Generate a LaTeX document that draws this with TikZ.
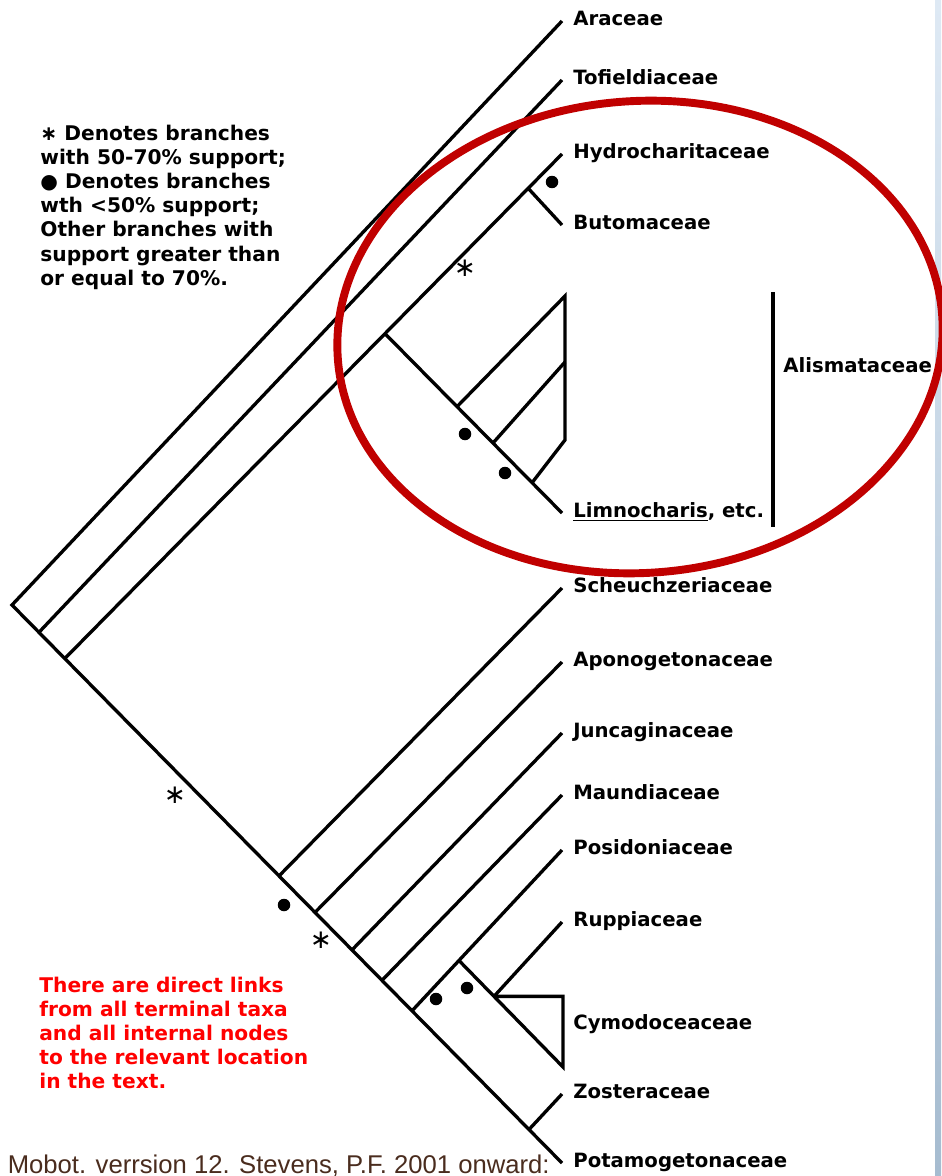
\documentclass[tikz,border=0pt]{standalone}
\usepackage{fontspec}
\setmainfont{DejaVu Sans}
\newfontfamily\capfont{Liberation Sans}
\usetikzlibrary{calc, positioning}
\definecolor{ringred}{RGB}{192,0,0}
\definecolor{linkred}{RGB}{255,0,0}
\definecolor{capbrown}{RGB}{74,44,30}
\definecolor{edgetop}{RGB}{222,233,244}
\definecolor{edgebot}{RGB}{166,188,208}
\tikzset{
  % tree
  branch/.style = {line width=1.9pt},
  taxon/.style  = {inner sep=0pt, font=\fontsize{11.2}{13}\selectfont\bfseries},
  supdot/.style = {circle, fill, inner sep=0pt, minimum width=0.23cm, minimum height=0.25cm},
  weak/.style   = {inner sep=0pt, font=\fontsize{15}{15}\selectfont},
  % notes
  note/.style   = {anchor=north west, align=left, inner sep=0pt,
                   font=\fontsize{11.5}{13.7}\selectfont\bfseries},
  ring/.style   = {draw=ringred, line width=4.5pt},
}

\begin{document}
\begin{tikzpicture}[x=0.02cm, y=-0.02cm]
\useasboundingbox (0,0) rectangle (941,1176);
\fill[white] (0,0) rectangle (941,1176);
\shade[top color=edgetop, bottom color=edgebot] (935,0) rectangle (941,1176);

% ---------- Tips ----------
\coordinate (tarac)  at (562,21);
\coordinate (ttofi)  at (562,80);
\coordinate (thydro) at (562,154);
\coordinate (tbuto)  at (562,225);
\coordinate (tlimno) at (562,513);
\coordinate (tscheu) at (562,588);
\coordinate (tapon)  at (562,662);
\coordinate (tjunc)  at (562,733);
\coordinate (tmaun)  at (562,795);
\coordinate (tposi)  at (562,850);
\coordinate (trupp)  at (562,922);
\coordinate (tzost)  at (562,1094);
\coordinate (tpota)  at (562,1163);

% ---------- Spine ----------
\coordinate (root) at (12,605);
\coordinate (n1) at ($(root)!0.049!(tpota)$);
\coordinate (n2) at ($(root)!0.096!(tpota)$);
\coordinate (s1) at ($(root)!0.4855!(tpota)$);
\coordinate (s2) at ($(root)!0.5509!(tpota)$);
\coordinate (s3) at ($(root)!0.6182!(tpota)$);
\coordinate (s4) at ($(root)!0.6727!(tpota)$);
\coordinate (s5) at ($(root)!0.7273!(tpota)$);
\coordinate (s6) at ($(root)!0.9400!(tpota)$);

% ---------- Inner nodes ----------
\coordinate (alis) at ($(n2)!0.644!(thydro)$);
\coordinate (hb)   at ($(n2)!0.932!(thydro)$);
\coordinate (b1) at ($(alis)!0.407!(tlimno)$);
\coordinate (b2) at ($(alis)!0.610!(tlimno)$);
\coordinate (b3) at ($(alis)!0.831!(tlimno)$);
\coordinate (atop) at (565,296);
\coordinate (amid) at (565,362);
\coordinate (abot) at (565,440);
\coordinate (cnode) at ($(s5)!0.313!(tposi)$);
\coordinate (cbot)  at (563,1067);
\coordinate (rc)    at ($(cnode)!0.337!(cbot)$);
\coordinate (ctop)  at (rc -| cbot);
\coordinate (bracktop) at (773,292);
\coordinate (brackbot) at (773,527);

% ---------- Branches ----------
\draw[branch] (tarac) -- (root) -- (tpota);
\draw[branch] (n1) -- (ttofi);
\draw[branch] (n2) -- (thydro);
\draw[branch] (hb) -- (tbuto);
\draw[branch] (alis) -- (tlimno);
\draw[branch] (b1) -- (atop) -- (abot) -- (b3);
\draw[branch] (b2) -- (amid);
\foreach \s/\t in {s1/tscheu, s2/tapon, s3/tjunc, s4/tmaun, s5/tposi, rc/trupp, s6/tzost} {
  \draw[branch] (\s) -- (\t);
}
\draw[branch] (cnode) -- (cbot) -- (ctop) -- (rc);
\draw[branch] (bracktop) -- (brackbot);

% ---------- Taxa ----------
\node[taxon, mid right=0.22cm of tarac]  (larac)  {Araceae};
\node[taxon, mid right=0.22cm of ttofi]  (ltofi)  {Tofieldiaceae};
\node[taxon, mid right=0.22cm of thydro] (lhydro) {Hydrocharitaceae};
\node[taxon, mid right=0.22cm of tbuto]  (lbuto)  {Butomaceae};
\node[taxon, mid right=0.22cm of tlimno] (llimno) {\underline{Limnocharis}, etc.};
\node[taxon, mid right=0.2cm of {$(bracktop)!0.32!(brackbot)$}] (lalis) {Alismataceae};
\node[taxon, mid right=0.22cm of tscheu] (lscheu) {Scheuchzeriaceae};
\node[taxon, mid right=0.22cm of tapon]  (lapon)  {Aponogetonaceae};
\node[taxon, mid right=0.22cm of tjunc]  (ljunc)  {Juncaginaceae};
\node[taxon, mid right=0.22cm of tmaun]  (lmaun)  {Maundiaceae};
\node[taxon, mid right=0.22cm of tposi]  (lposi)  {Posidoniaceae};
\node[taxon, mid right=0.22cm of trupp]  (lrupp)  {Ruppiaceae};
\node[taxon, mid right=0.2cm of {$(ctop)!0.4!(cbot)$}] (lcymo) {Cymodoceaceae};
\node[taxon, mid right=0.22cm of tzost]  (lzost)  {Zosteraceae};
\node[taxon, mid right=0.22cm of tpota]  (lpota)  {Potamogetonaceae};

% ---------- Support marks ----------
\node[supdot] (d1) at (552,182) {};
\node[supdot] (d2) at (465,434) {};
\node[supdot] (d3) at (505,473) {};
\node[supdot] (d4) at (284,905) {};
\node[supdot] (d5) at (436,999) {};
\node[supdot] (d6) at (467,988) {};
\node[weak] (w1) at (465,268) {∗};
\node[weak] (w2) at (175,795) {∗};
\node[weak] (w3) at (321,940) {∗};

% ---------- Notes ----------
\node[note] (legend) at (40,125)
  {∗ Denotes branches\\ with 50-70\% support;\\ ● Denotes branches\\ wth <50\% support;\\
   Other branches with\\ support greater than\\ or equal to 70\%.};
\node[note, text=linkred] (links) at (39,977)
  {There are direct links\\ from all terminal taxa\\ and all internal nodes\\
   to the relevant location\\ in the text.};
\node[anchor=base east, inner sep=0pt, text=capbrown, font=\capfont\fontsize{14.6}{16}\selectfont]
  (source) at (550,1173) {Mobot. verrsion 12. Stevens, P.F. 2001 onward:};

% ---------- Highlight ----------
\coordinate (ringc) at (640,337);
\draw[ring, rotate around={4:(ringc)}] (ringc) ellipse [x radius=6.06cm, y radius=4.72cm];

\end{tikzpicture}
\end{document}
